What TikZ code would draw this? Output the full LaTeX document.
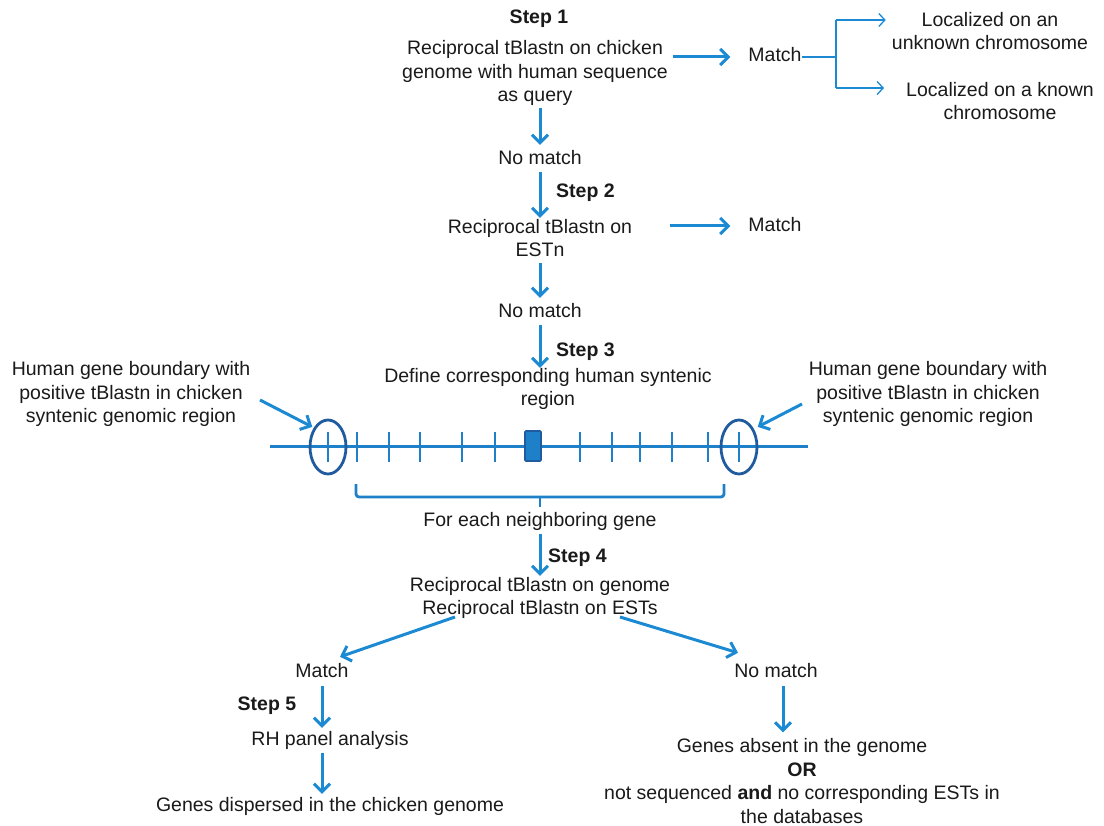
\documentclass[tikz,border=0pt]{standalone}
\usepackage{fontspec}
\setmainfont{Liberation Sans}
\usetikzlibrary{arrows.meta,calc,shapes.geometric}
\definecolor{ab}{HTML}{1B8AD3}
\definecolor{lb}{HTML}{1E80C8}
\definecolor{db}{HTML}{1F5B9E}
\definecolor{tx}{HTML}{1A1A1A}
\begin{document}
\begin{tikzpicture}[x=1pt,y=-1pt,
  txt/.style={inner sep=0pt, align=center, text=tx, font=\fontsize{19.5}{23.5}\selectfont},
  one/.style={txt, text height=14pt, text depth=4pt},
  bold/.style={one, font=\fontsize{19.5}{23.5}\selectfont\bfseries},
  arr/.style={draw=ab, line width=3pt, -{Straight Barb[length=8pt,width=16pt,line width=3pt]}},
  thinarr/.style={draw=ab, line width=1.3pt, -{Straight Barb[length=6pt,width=13pt,line width=1.3pt]}},
  thinline/.style={draw=ab, line width=1.3pt},
  chrom/.style={draw=lb, line width=3pt},
  tick/.style={draw=lb, line width=2.8pt},
  ring/.style={draw=db, line width=2.8pt, ellipse, inner sep=0pt, minimum width=36pt, minimum height=54pt}
]
\fill[white] (0,0) rectangle (1104,826);
\useasboundingbox (0,0) rectangle (1104,826);

% Step 1
\node[bold] (st1) at (539,19) {Step 1};
\node[txt] (q1) at (535,73) {Reciprocal tBlastn on chicken\\genome with human sequence\\as query};
\node[one] (m1) at (775,57) {Match};
\node[txt] (unk) at (990,31) {Localized on an\\unknown chromosome};
\node[txt] (kno) at (1000,101) {Localized on a known\\chromosome};
\coordinate (brT) at (836,20);
\coordinate (brB) at (836,88);
\coordinate (brM) at (836,57);
\draw[arr] (q1.east |- m1) ++(5,0) coordinate (a1s) -- ($(m1.west)+(-18,0)$) coordinate (a1e);
\draw[thinline] (m1.east) -- (brM);
\draw[thinline] (brT) -- (brB);
\draw[thinarr] (brT) -- ($(unk.west |- brT)+(-6,0)$);
\draw[thinarr] (brB) -- ($(kno.west |- brB)+(-22,0)$);

% No match 1
\node[one] (nm1) at (540,160) {No match};
\draw[arr] ($(q1.south)+(5,2)$) -- ($(nm1.north)+(0,-6)$);

% Step 2
\node[txt] (q2) at (540,238) {Reciprocal tBlastn on\\ESTn};
\node[one] (m2) at (775,227) {Match};
\node[bold, anchor=west] (st2) at (556,193) {Step 2};
\draw[arr] ($(nm1.south)+(0,3)$) -- ($(q2.north)+(0,-1)$);
\draw[arr] (670,226) -- ($(m2.west)+(-18,-1)$);

% No match 2
\node[one] (nm2) at (540,313) {No match};
\draw[arr] ($(q2.south)+(0,6)$) -- ($(nm2.north)+(0,-6)$);

% Step 3
\node[bold, anchor=west] (st3) at (556,352) {Step 3};
\node[txt] (q3) at (548,389) {Define corresponding human syntenic\\region};
\draw[arr] ($(nm2.south)+(0,3)$) -- ($(q3.north)+(-8,0)$);

\node[txt] (hl) at (131,394) {Human gene boundary with\\positive tBlastn in chicken\\syntenic genomic region};
\node[txt] (hr) at (928,394) {Human gene boundary with\\positive tBlastn in chicken\\syntenic genomic region};

% chromosome
\draw[chrom] (270,447) coordinate (cL) -- (808,447) coordinate (cR);
\foreach \x in {328,357,389,420,462,495,580,612,640,672,708,739}
  \draw[tick] (\x,432) -- (\x,462);
\node[ring] (eL) at (328,447) {};
\node[ring] (eR) at (739,447) {};
\node[draw=db, fill=lb, line width=1.6pt, minimum width=16pt, minimum height=30pt, inner sep=0pt, rounded corners=1pt] (gene) at (533,446) {};
\draw[arr] (260,400) coordinate (pl) -- ($(eL.north west)+(-2,0)$);
\draw[arr] (802,404) coordinate (pr) -- ($(eR.north east)+(5,0)$);

% brace
\draw[tick, rounded corners=3pt] (356,484) -- (356,497) -- (724,497) -- (724,484);
\draw[tick] (540,497) -- (540,507) coordinate (brc);

\node[one] (each) at (540,521) {For each neighboring gene};

% Step 4
\node[bold, anchor=west] (st4) at (548,557) {Step 4};
\node[txt] (q4) at (540,598) {Reciprocal tBlastn on genome\\Reciprocal tBlastn on ESTs};
\draw[arr] ($(each.south)+(0,4)$) -- ($(q4.north)+(0,-1)$);

\node[one] (m4) at (322,672) {Match};
\node[one] (nm4) at (776,672) {No match};
\draw[arr] (455,617) -- ($(m4.north)+(18,-6)$);
\draw[arr] (620,617) -- ($(nm4.north)+(-38,-10)$);

% Step 5
\node[bold] (st5) at (267,705) {Step 5};
\node[one] (rh) at (330,740) {RH panel analysis};
\node[one] (disp) at (330,806) {Genes dispersed in the chicken genome};
\draw[arr] ($(m4.south)+(0,5)$) -- ($(rh.north)+(-8,-3)$);
\draw[arr] ($(rh.south)+(-8,4)$) -- ($(disp.north)+(-8,-3)$);

\node[txt] (abs) at (802,781) {Genes absent in the genome\\\textbf{OR}\\not sequenced \textbf{and} no corresponding ESTs in\\the databases};
\draw[arr] ($(nm4.south)+(7,5)$) -- ($(abs.north)+(-19,-6)$);
\end{tikzpicture}
\end{document}
